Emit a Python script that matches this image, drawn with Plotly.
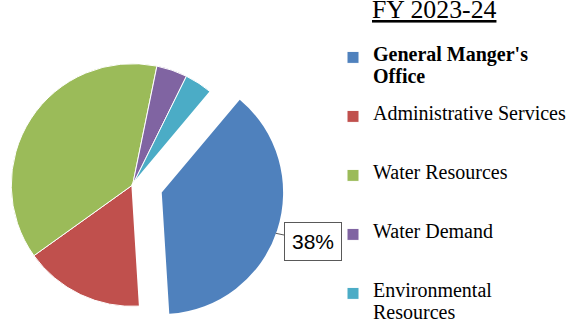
import plotly.graph_objects as go

# ---- data ----
labels = ["General Manger's Office", "Administrative Services", "Water Resources",
          "Water Demand", "Environmental Resources"]
legend_lines = [["General Manger's", "Office"], ["Administrative Services"], ["Water Resources"],
                ["Water Demand"], ["Environmental", "Resources"]]
values = [37.9, 16.1, 38.1, 4.1, 3.8]
colors = ["#4F81BD", "#C0504D", "#9BBB59", "#8064A2", "#4BACC6"]
bold_flags = [True, False, False, False, False]
title_text = "FY 2023-24"

W, H = 571, 328
TRANSP = "rgba(0,0,0,0)"
NBSP = "\u00a0"
LINE_H = 11.2                 # legend sub-line pitch in px (visible lines use every 2nd)
LEG_FONT = LINE_H / 1.3


def disp(lines, bold):
    # 5 sub-lines per entry: blank, blank, line1, blank, line2
    slots = [NBSP] * 5
    for i, ln in enumerate(lines):
        s = "<span style='font-size:20px'>%s</span>" % ln
        if bold:
            s = "<b>%s</b>" % s
        slots[2 + 2 * i] = s
    return "<br>".join(slots)


disp_labels = [disp(l, b) for l, b in zip(legend_lines, bold_flags)]


def dom(cx, cy, r):
    return dict(x=[(cx - r) / W, (cx + r) / W], y=[1 - (cy + r) / H, 1 - (cy - r) / H])


R = 122
main_c = (133.3, 185.0)
pull_c = (162.6, 192.6)
common = dict(labels=disp_labels, values=values, sort=False, direction="clockwise",
              rotation=40, textinfo="none", hoverinfo="percent")

fig = go.Figure()
# full pie (also provides the legend)
fig.add_trace(go.Pie(**common, domain=dom(*main_c, R), showlegend=True,
                     marker=dict(colors=colors, line=dict(color="white", width=1))))
# white cover for the exploded slice's original place
fig.add_trace(go.Pie(**common, domain=dom(*main_c, R), showlegend=False,
                     marker=dict(colors=["white"] + [TRANSP] * 4,
                                 line=dict(color="white", width=[2.5, 0, 0, 0, 0]))))
# exploded slice
fig.add_trace(go.Pie(**common, domain=dom(*pull_c, R), showlegend=False,
                     marker=dict(colors=[colors[0]] + [TRANSP] * 4,
                                 line=dict(color="white", width=0))))

pct = round(values[0] / sum(values) * 100)

fig.update_layout(
    width=W, height=H,
    margin=dict(l=0, r=0, t=0, b=0),
    paper_bgcolor="white", plot_bgcolor="white",
    showlegend=True,
    legend=dict(x=335 / W, xanchor="left", y=1 - 22.9 / H, yanchor="top",
                bgcolor=TRANSP, borderwidth=0, valign="middle", tracegroupgap=0,
                font=dict(family="Liberation Serif", size=LEG_FONT, color="black")),
    annotations=[
        dict(text="<u>%s</u>" % title_text, x=436.7 / W, y=1 - 9.6 / H,
             xref="paper", yref="paper", xanchor="center", yanchor="middle",
             showarrow=False, font=dict(family="Liberation Serif", size=25.8, color="black")),
        dict(text="%d%%" % pct, x=277.3 / W, y=1 - 233.3 / H, xref="paper", yref="paper",
             ax=36.7, ay=7.7, showarrow=True, arrowhead=0, arrowwidth=1,
             arrowcolor="#595959", bordercolor="#595959", borderwidth=1, borderpad=7,
             bgcolor="white", font=dict(family="Liberation Sans", size=21, color="black")),
    ],
)

fig.write_html("out.html")
